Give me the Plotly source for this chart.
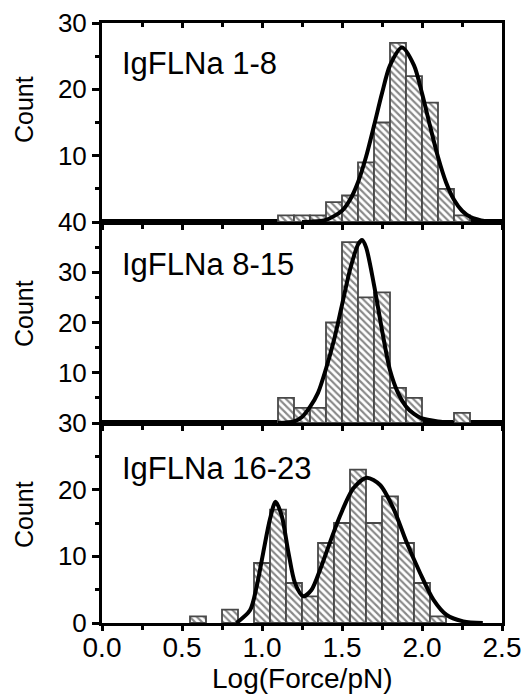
import plotly.graph_objects as go

# histogram bins (bin centres, Log(Force/pN)) and counts
bins_1_8 = [1.15, 1.25, 1.35, 1.45, 1.55, 1.65, 1.75, 1.85, 1.95, 2.05, 2.15, 2.25]
count_1_8 = [1, 1, 1, 3, 4, 9, 15, 27, 22, 18, 5, 1]

bins_8_15 = [1.15, 1.25, 1.35, 1.45, 1.55, 1.65, 1.75, 1.85, 1.95, 2.25]
count_8_15 = [5, 3, 3, 20, 36, 25, 26, 7, 5, 2]

bins_16_23 = [0.6, 0.8, 1.0, 1.1, 1.2, 1.3, 1.4, 1.5, 1.6, 1.7, 1.8, 1.9, 2.0, 2.1]
count_16_23 = [1, 2, 9, 17, 6, 4, 12, 15, 23, 15, 19, 12, 6, 1]

# fitted curves, points
fit_x_1_8 = [1.25, 1.30, 1.40, 1.50, 1.55, 1.60, 1.65, 1.70, 1.75, 1.80, 1.875,
             1.95, 2.00, 2.05, 2.10, 2.15, 2.20, 2.25, 2.30, 2.40, 2.47]
fit_y_1_8 = [0.0, 0.04, 0.32, 1.7, 3.35, 6.0, 9.8, 14.5, 19.4, 23.6, 26.3,
             23.6, 19.4, 14.5, 9.8, 6.0, 3.35, 1.7, 0.8, 0.12, 0.0]

fit_x_8_15 = [1.10, 1.20, 1.25, 1.30, 1.35, 1.40, 1.45, 1.50, 1.55, 1.60, 1.625,
              1.65, 1.70, 1.75, 1.80, 1.85, 1.90, 1.95, 2.00, 2.10, 2.20]
fit_y_8_15 = [0.0, 0.3, 1.2, 3.2, 6.0, 10.8, 16.5, 23.5, 30.5, 35.5, 36.4,
              35.0, 27.5, 18.5, 10.5, 6.0, 3.3, 1.8, 0.9, 0.3, 0.0]

fit_x_16_23 = [0.84, 0.925, 0.967, 1.008, 1.05, 1.085, 1.123, 1.165, 1.206, 1.258,
               1.31, 1.363, 1.425, 1.488, 1.571, 1.654, 1.738, 1.821, 1.904, 1.988,
               2.071, 2.154, 2.258, 2.38]
fit_y_16_23 = [0.0, 1.9, 5.5, 10.6, 15.6, 18.2, 16.1, 10.6, 6.0, 4.0,
               5.0, 8.0, 12.1, 16.1, 20.2, 21.8, 20.7, 17.2, 12.1, 7.5,
               3.5, 1.2, 0.25, 0.0]

x_ticks = [0.0, 0.5, 1.0, 1.5, 2.0, 2.5]

FONT = 'Arial, Liberation Sans, sans-serif'

fig = go.Figure()

panels = [
	# label, bins, counts, fit x, fit y, y range, y ticks, axis suffix, domain
	('IgFLNa 1-8', bins_1_8, count_1_8, fit_x_1_8, fit_y_1_8, [0, 30], [10, 20, 30], '3', [0.6683, 1.0]),
	('IgFLNa 8-15', bins_8_15, count_8_15, fit_x_8_15, fit_y_8_15, [0, 40], [10, 20, 30, 40], '2', [0.3333, 0.6683]),
	('IgFLNa 16-23', bins_16_23, count_16_23, fit_x_16_23, fit_y_16_23, [0, 30], [0, 10, 20, 30], '', [0.0, 0.3333]),
]

annotations = []
label_y = {'3': 0.9317, '2': 0.5967, '': 0.2583}
count_y = {'3': 0.855, '2': 0.515, '': 0.18}

for label, bins, counts, fx, fy, yrange, yticks, n, domain in panels:
	fig.add_trace(go.Bar(
		x = bins,
		y = counts,
		width = 0.1,
		marker = dict(
			color = 'white',
			line = dict(color = '#484848', width = 1.8),
			pattern = dict(shape = '\\', fgcolor = '#111111', bgcolor = 'white', size = 5, solidity = 0.42),
		),
		xaxis = 'x' + n,
		yaxis = 'y' + n,
		showlegend = False,
	))
	fig.add_trace(go.Scatter(
		x = fx,
		y = fy,
		mode = 'lines',
		line = dict(color = 'black', width = 4, shape = 'spline', smoothing = 0.8),
		xaxis = 'x' + n,
		yaxis = 'y' + n,
		showlegend = False,
	))
	fig.update_layout({
		'xaxis' + n: dict(
			domain = [0, 1],
			anchor = 'y' + n,
			range = [0, 2.5],
			automargin = False,
			showline = True, linewidth = 3, linecolor = 'black', mirror = True,
			ticks = 'outside', tickvals = x_ticks, ticklen = 5, tickwidth = 3, tickcolor = 'black',
			minor = dict(tick0 = 0, dtick = 0.25, ticks = 'outside', ticklen = 4, tickwidth = 3, tickcolor = 'black'),
			showticklabels = (n == ''),
			tickformat = '.1f',
			tickfont = dict(family = FONT, size = 28, color = 'black'),
			ticklabelstandoff = -8,
			ticklabeloverflow = 'allow',
			showgrid = False, zeroline = False,
		),
		'yaxis' + n: dict(
			domain = domain,
			anchor = 'x' + n,
			range = yrange,
			automargin = False,
			showline = True, linewidth = 3, linecolor = 'black', mirror = True,
			ticks = 'outside', tickvals = yticks, ticklen = 7, tickwidth = 2.5, tickcolor = 'black',
			minor = dict(tick0 = 0, dtick = 5, ticks = 'outside', ticklen = 4, tickwidth = 2.5, tickcolor = 'black'),
			tickfont = dict(family = FONT, size = 26, color = 'black'),
			ticklabelstandoff = 0,
			ticklabeloverflow = 'allow',
			showgrid = False, zeroline = False,
		),
	})
	annotations.append(dict(
		text = label, x = 0.045, y = label_y[n], xref = 'paper', yref = 'paper',
		xanchor = 'left', yanchor = 'middle', showarrow = False,
		font = dict(family = FONT, size = 31, color = 'black'),
	))
	annotations.append(dict(
		text = 'Count', x = -0.195, y = count_y[n], xref = 'paper', yref = 'paper',
		xanchor = 'center', yanchor = 'middle', showarrow = False, textangle = -90,
		font = dict(family = FONT, size = 25, color = 'black'),
	))

# ticks pointing down from the top frame of the upper panel
fig.add_trace(go.Scatter(
	x = [0], y = [0], mode = 'markers', marker = dict(opacity = 0),
	xaxis = 'x4', yaxis = 'y3', showlegend = False, hoverinfo = 'skip',
))
fig.update_layout(xaxis4 = dict(
	overlaying = 'x3', anchor = 'y3', side = 'top', range = [0, 2.5], automargin = False,
	showline = False, showticklabels = False, showgrid = False, zeroline = False,
	ticks = 'inside', tickvals = x_ticks, ticklen = 5, tickwidth = 3, tickcolor = 'black',
	minor = dict(tick0 = 0, dtick = 0.25, ticks = 'inside', ticklen = 4, tickwidth = 3, tickcolor = 'black'),
))

annotations.append(dict(
	text = 'Log(Force/pN)', x = 0.5, y = -0.0917, xref = 'paper', yref = 'paper',
	xanchor = 'center', yanchor = 'middle', showarrow = False,
	font = dict(family = FONT, size = 28, color = 'black'),
))

fig.update_layout(
	width = 525,
	height = 700,
	margin = dict(l = 102, r = 23, t = 23, b = 77, autoexpand = False),
	paper_bgcolor = 'white',
	plot_bgcolor = 'white',
	barmode = 'overlay',
	annotations = annotations,
	font = dict(family = FONT, color = 'black'),
)

# drop the page's default body margin so the figure sits at the window corner
fig.write_html(
	'out.html',
	config = {'displayModeBar': False},
	post_script = "document.body.style.margin = '0';",
)
